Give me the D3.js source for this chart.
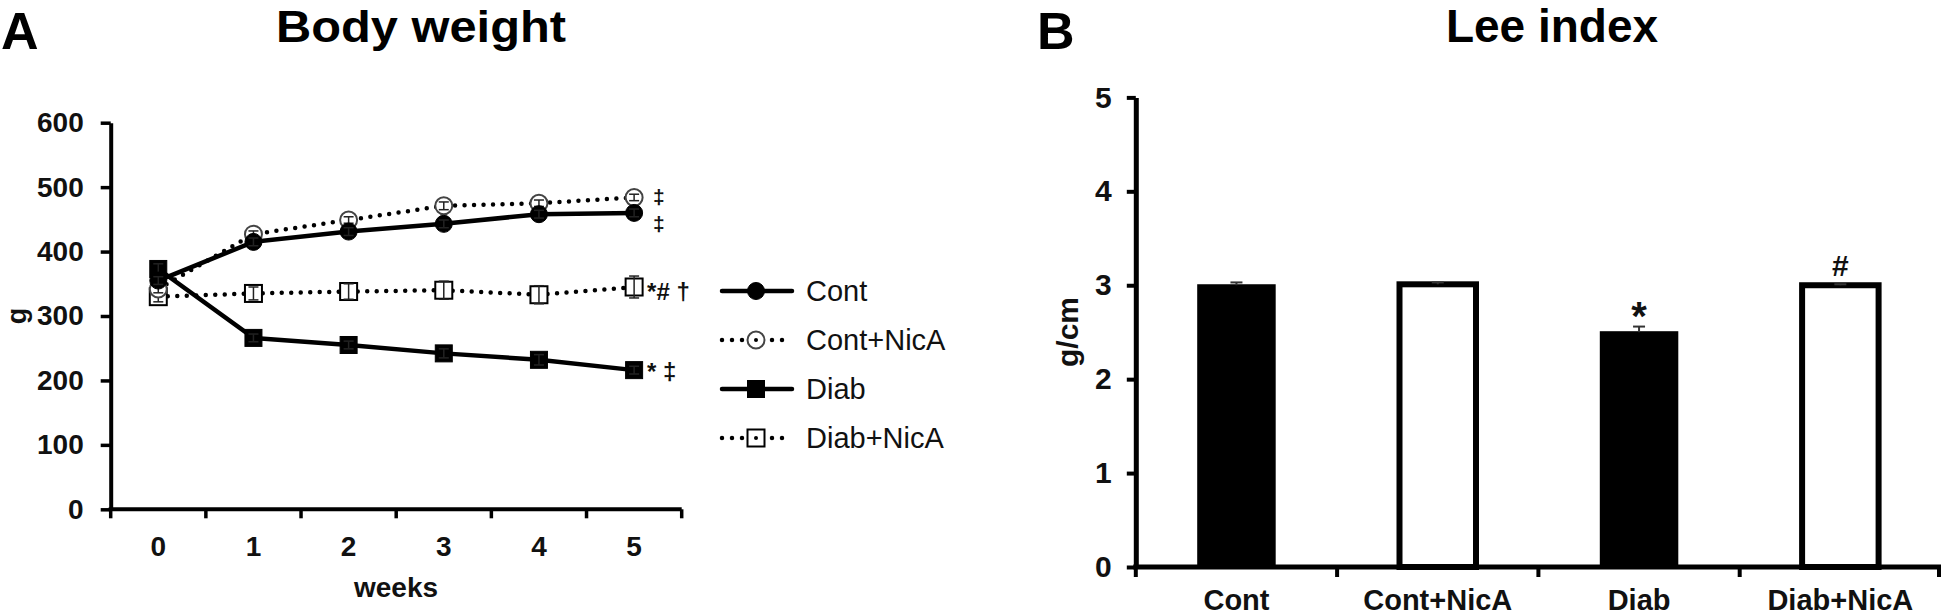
<!DOCTYPE html>
<html><head><meta charset="utf-8">
<script src="https://cdn.jsdelivr.net/npm/d3@7"></script>
<style>
body{margin:0;background:#fff;}
svg{display:block;font-family:"Liberation Sans",Arial,sans-serif;}
</style></head><body>
<svg id="c" width="1946" height="616"></svg>
<script>
// ---------- Panel A data: body weight (g) ----------
const weeks = [0, 1, 2, 3, 4, 5];
const seriesNames = ["Cont", "Cont+NicA", "Diab", "Diab+NicA"];
const contW      = [355, 415, 431, 443, 458, 460];
const contErr    = [6, 6, 6, 6, 6, 6];
const contNicAW  = [342, 427, 449, 471, 475, 484];
const contNicAErr= [6, 5, 5, 6, 5, 5];
const diabW      = [373, 266, 255, 242, 232, 216];
const diabErr    = [8, 6, 6, 7, 8, 6];
const diabNicAW  = [330, 335, 338, 340, 333, 345];
const diabNicAErr= [8, 10, 12, 14, 14, 17];
const weightTicks = [0, 100, 200, 300, 400, 500, 600];
const endNotes = ["‡", "‡", "* ‡", "*# †"];   // per series, after week 5

// ---------- Panel B data: Lee index (g/cm) ----------
const groups  = ["Cont", "Cont+NicA", "Diab", "Diab+NicA"];
const leeVals = [3.00, 3.01, 2.50, 3.00];
const leeErr  = [0.03, 0.02, 0.06, 0.01];
const leeNotes = ["", "", "*", "#"];
const leeTicks = [0, 1, 2, 3, 4, 5];

const svg = d3.select("#c");

// ================= Panel A =================
const xA = d3.scaleBand().domain(weeks).range([110.7, 681.7]);
const yA = d3.scaleLinear().domain([0, 600]).range([509.3, 122.7]);
const cx = w => xA(w) + xA.bandwidth() / 2;

svg.append("text").attr("x", 1).attr("y", 49).attr("font-size", 52).attr("font-weight", "bold").text("A");
svg.append("text").attr("x", 421).attr("y", 42).attr("text-anchor", "middle")
  .attr("font-size", 44).attr("font-weight", "bold")
  .attr("textLength", 290).attr("lengthAdjust", "spacingAndGlyphs").text("Body weight");

const gyA = svg.append("g").attr("transform", "translate(110.7,0)")
  .call(d3.axisLeft(yA).tickValues(weightTicks).tickSize(10).tickSizeOuter(0).tickPadding(17));
gyA.select(".domain").attr("stroke-width", 4);
gyA.selectAll(".tick line").attr("stroke-width", 3.5);
gyA.selectAll("text").attr("font-size", 28).attr("font-weight", "bold").attr("fill", "#111")
  .attr("font-family", "Liberation Sans, Arial, sans-serif");

const gxA = svg.append("g").attr("transform", "translate(0,509.3)")
  .call(d3.axisBottom(xA).tickSize(0).tickPadding(27));
gxA.select(".domain").remove();
gxA.selectAll("text").attr("font-size", 28).attr("font-weight", "bold").attr("fill", "#111")
  .attr("font-family", "Liberation Sans, Arial, sans-serif");
gxA.append("line").attr("x1", xA.range()[0] - 2).attr("x2", xA.range()[1]).attr("stroke", "#000").attr("stroke-width", 4);
const bA = weeks.map(w => xA(w)).concat([xA.range()[1]]);
gxA.selectAll("line.b").data(bA).enter().append("line").attr("class", "b")
  .attr("x1", d => d).attr("x2", d => d).attr("y1", 0).attr("y2", 9)
  .attr("stroke", "#000").attr("stroke-width", 3.5);

svg.append("text").attr("x", 396).attr("y", 597).attr("text-anchor", "middle")
  .attr("font-size", 28).attr("font-weight", "bold").attr("fill", "#111").text("weeks");
svg.append("text").attr("transform", "translate(26,316) rotate(-90)").attr("text-anchor", "middle")
  .attr("font-size", 27).attr("font-weight", "bold").attr("fill", "#111").text("g");

const series = [
  {name: seriesNames[0], v: contW, e: contErr, dotted: false, shape: "circle", filled: true, note: endNotes[0], ndy: 10},
  {name: seriesNames[1], v: contNicAW, e: contNicAErr, dotted: true, shape: "circle", filled: false, note: endNotes[1], ndy: -1},
  {name: seriesNames[2], v: diabW, e: diabErr, dotted: false, shape: "square", filled: true, note: endNotes[2], ndy: 2},
  {name: seriesNames[3], v: diabNicAW, e: diabNicAErr, dotted: true, shape: "square", filled: false, note: endNotes[3], ndy: 5}
];

const line = d3.line().x((d, i) => cx(weeks[i])).y(d => yA(d));
const drawOrder = [3, 1, 2, 0];
drawOrder.forEach(k => {
  const s = series[k];
  svg.append("path").attr("d", line(s.v)).attr("fill", "none").attr("stroke", "#000")
    .attr("stroke-width", 4.5).attr("stroke-linecap", "round")
    .attr("stroke-dasharray", s.dotted ? "0,9.5" : null);
});

function marker(g, s, x, y) {
  if (s.shape === "circle") {
    g.append("circle").attr("cx", x).attr("cy", y).attr("r", 8.5)
      .attr("fill", s.filled ? "#000" : "#fff")
      .attr("stroke", s.filled ? "#000" : "#444").attr("stroke-width", s.filled ? 1 : 2);
  } else {
    g.append("rect").attr("x", x - 8.5).attr("y", y - 8.5).attr("width", 17).attr("height", 17)
      .attr("fill", s.filled ? "#000" : "#fff").attr("stroke", "#000").attr("stroke-width", s.filled ? 1 : 2);
  }
}
const mk = svg.append("g");
[3, 1, 2, 0].forEach(k => {
  const s = series[k];
  s.v.forEach((v, i) => marker(mk, s, cx(weeks[i]), yA(v)));
  s.v.forEach((v, i) => {
    const x = cx(weeks[i]);
    mk.append("line").attr("x1", x).attr("x2", x).attr("y1", yA(v - s.e[i])).attr("y2", yA(v + s.e[i]))
      .attr("stroke", "#222").attr("stroke-width", 1.5);
    [v - s.e[i], v + s.e[i]].forEach(t => mk.append("line").attr("x1", x - 5).attr("x2", x + 5)
      .attr("y1", yA(t)).attr("y2", yA(t)).attr("stroke", "#222").attr("stroke-width", 1.5));
  });
});

// end-of-line significance notes
series.forEach(s => {
  const last = s.v[s.v.length - 1];
  svg.append("text").attr("x", cx(weeks[weeks.length - 1]) + 13).attr("y", yA(last) + s.ndy + 8)
    .attr("font-size", s.note.length === 1 ? 21 : 24).attr("font-weight", "bold").attr("fill", "#111")
    .attr("xml:space", "preserve").text(s.note.length === 1 ? " " + s.note : s.note);
});

// legend
const lg = svg.append("g");
series.forEach((s, i) => {
  const y = 291 + i * 49;
  lg.append("line").attr("x1", 722).attr("x2", 792).attr("y1", y).attr("y2", y)
    .attr("stroke", "#000").attr("stroke-width", 4.5).attr("stroke-linecap", "round")
    .attr("stroke-dasharray", s.dotted ? "0,10" : null);
  if (s.dotted) {
    lg.append("rect").attr("x", 745).attr("y", y - 10).attr("width", 22).attr("height", 20).attr("fill", "#fff");
  }
  marker(lg, s, 756, y);
  if (!s.filled) lg.append("circle").attr("cx", 756).attr("cy", y).attr("r", 2).attr("fill", "#000");
  lg.append("text").attr("x", 806).attr("y", y).attr("dy", "0.36em").attr("font-size", 29).attr("fill", "#111").text(s.name);
});

// ================= Panel B =================
const xB = d3.scaleBand().domain(groups).range([1135.8, 1941]);
const yB = d3.scaleLinear().domain([0, 5]).range([567, 97.4]);
const bw = xB.step() * 0.38;

svg.append("text").attr("x", 1037).attr("y", 49).attr("font-size", 52).attr("font-weight", "bold").text("B");
svg.append("text").attr("x", 1552).attr("y", 42).attr("text-anchor", "middle")
  .attr("font-size", 46).attr("font-weight", "bold").text("Lee index");

const gyB = svg.append("g").attr("transform", "translate(1135.8,0)")
  .call(d3.axisLeft(yB).tickValues(leeTicks).tickSize(9).tickSizeOuter(0).tickPadding(15).tickFormat(d3.format("d")));
gyB.select(".domain").attr("stroke-width", 5);
gyB.selectAll(".tick line").attr("stroke-width", 4);
gyB.selectAll("text").attr("font-size", 30).attr("font-weight", "bold").attr("fill", "#111")
  .attr("font-family", "Liberation Sans, Arial, sans-serif");

svg.append("text").attr("transform", "translate(1078,332) rotate(-90)").attr("text-anchor", "middle")
  .attr("font-size", 30).attr("font-weight", "bold").attr("fill", "#111").text("g/cm");

// bars
groups.forEach((g, i) => {
  const open = g.indexOf("NicA") >= 0;
  const x = xB(g) + (xB.step() - bw) / 2;
  svg.append("rect").attr("x", x).attr("y", yB(leeVals[i])).attr("width", bw)
    .attr("height", yB(0) - yB(leeVals[i]))
    .attr("fill", open ? "#fff" : "#000").attr("stroke", "#000").attr("stroke-width", open ? 6 : 2);
  const xc = x + bw / 2;
  const top = yB(leeVals[i] + leeErr[i]);
  svg.append("line").attr("x1", xc).attr("x2", xc).attr("y1", yB(leeVals[i])).attr("y2", top)
    .attr("stroke", "#333").attr("stroke-width", 2);
  svg.append("line").attr("x1", xc - 6).attr("x2", xc + 6).attr("y1", top).attr("y2", top)
    .attr("stroke", "#333").attr("stroke-width", 2);
  if (leeNotes[i] === "*") {
    svg.append("text").attr("x", xc).attr("y", top + 3).attr("text-anchor", "middle")
      .attr("font-size", 40).attr("font-weight", "bold").attr("fill", "#111").text("*");
  } else if (leeNotes[i]) {
    svg.append("text").attr("x", xc).attr("y", top - 8).attr("text-anchor", "middle")
      .attr("font-size", 30).attr("font-weight", "bold").attr("fill", "#111").text(leeNotes[i]);
  }
});

// x axis B
const gxB = svg.append("g").attr("transform", "translate(0,567)")
  .call(d3.axisBottom(xB).tickSize(0).tickPadding(22));
gxB.select(".domain").remove();
gxB.selectAll("text").attr("font-size", 29).attr("font-weight", "bold").attr("fill", "#111")
  .attr("font-family", "Liberation Sans, Arial, sans-serif");
gxB.append("line").attr("x1", xB.range()[0] - 2.5).attr("x2", xB.range()[1]).attr("stroke", "#000").attr("stroke-width", 5);
const bB = groups.map(g => xB(g)).concat([xB.range()[1] - 2]);
gxB.selectAll("line.b").data(bB).enter().append("line").attr("class", "b")
  .attr("x1", d => d).attr("x2", d => d).attr("y1", 0).attr("y2", 10)
  .attr("stroke", "#000").attr("stroke-width", 4);
</script></body></html>
